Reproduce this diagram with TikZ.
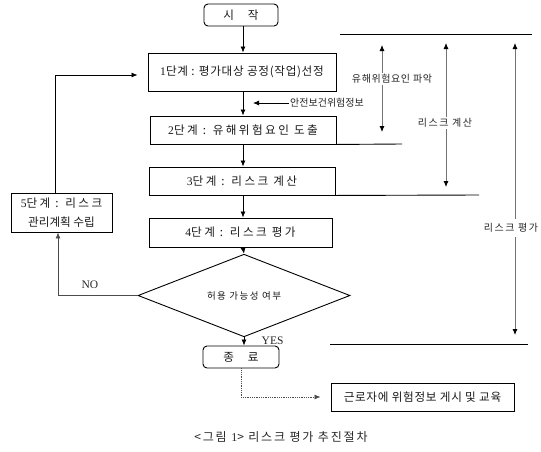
\documentclass[tikz,border=0pt]{standalone}
\usepackage{fontspec}
\setmainfont{Noto Sans CJK KR}
\newfontfamily\lat{Liberation Serif}
\newfontfamily\krA{Noto Sans CJK KR}[LetterSpace=21]
\newfontfamily\krB{Noto Sans CJK KR}[LetterSpace=6]
\newfontfamily\krC{Noto Sans CJK KR}[LetterSpace=15]
\usetikzlibrary{arrows.meta,shapes.geometric}
\begin{document}
\begin{tikzpicture}[x=1pt,y=-1pt,
  stepbox/.style={draw,line width=0.9pt,inner sep=0pt,font=\fontsize{11.6}{13}\selectfont,text=black!90},
  rbox/.style={stepbox,rounded corners=4pt},
  lab/.style={inner sep=1pt,font=\fontsize{10}{12}\selectfont,text=black!85},
  arr/.style={line width=0.8pt,-{Latex[length=6pt,width=5pt]}},
  garr/.style={line width=0.8pt,draw=black!55,{Latex[length=6pt,width=5pt,black]}-{Latex[length=6pt,width=5pt,black]}},
  hline/.style={line width=0.9pt}]
\useasboundingbox (0,0) rectangle (541,451);
\coordinate (cx) at (243,0);
% main boxes
\node[rbox,minimum width=74,minimum height=22] (start) at (241,15) {시\hspace{14pt}작};
\node[stepbox,minimum width=188,minimum height=38] (s1) at (242,72) {\krB{\lat 1}단계 : 평가대상 공정(작업)선정};
\node[stepbox,minimum width=186,minimum height=28] (s2) at (243,130) {\krA{\lat 2}단계 : 유해위험요인 도출};
\node[stepbox,minimum width=186,minimum height=28] (s3) at (242,181) {\krA{\lat 3}단계 : 리스크 계산};
\node[stepbox,minimum width=183,minimum height=29] (s4) at (240.5,232.5) {\krA{\lat 4}단계 : 리스크 평가};
\node[stepbox,minimum width=101,minimum height=39,align=center,font=\fontsize{11.6}{19}\selectfont] (s5) at (61.5,212.5) {\krA{\lat 5}단계 : 리스크\\관리계획 수립};
\node[draw,diamond,line width=0.9pt,inner sep=0pt,minimum width=212,minimum height=53,font=\fontsize{9.5}{11}\selectfont,text=black!90] (dia) at (244,295.5) {\krC 허용 가능성 여부};
\node[rbox,minimum width=76,minimum height=22] (end) at (241,357) {종\hspace{14pt}료};
\node[stepbox,minimum width=183,minimum height=28] (edu) at (422.5,397) {\krB 근로자에 위험정보 게시 및 교육};
% flow arrows
\draw[arr] (cx |- start.south) -- (cx |- s1.north);
\draw[arr] (cx |- s1.south) -- (cx |- s2.north);
\draw[arr] (cx |- s2.south) -- (cx |- s3.north);
\draw[arr] (cx |- s3.south) -- (cx |- s4.north);
\draw[arr] (cx |- s4.south) -- (dia.north);
\draw[arr] (dia.south) -- (dia.south |- end.north) node[pos=0.4,right=14pt,font=\lat\fontsize{11.5}{13}\selectfont,text=black!85] (yes) {YES};
\draw[arr,draw=black!70] (dia.west) -| ([xshift=-3.5]s5.south) node[pos=0.3,above=3pt,font=\lat\fontsize{11.5}{13}\selectfont,text=black!85] (no) {NO};
\draw[arr] ([xshift=-6]s5.north) |- ([xshift=-10,yshift=-3]s1.west);
\draw[arr,densely dotted,draw=black!70] (end.south) |- ([xshift=-10]edu.west);
% info input
\node[lab,anchor=west] (info) at (289,103) {안전보건위험정보};
\coordinate (infotip) at (253,103);
\draw[arr] (info.west) -- (infotip);
% horizontal rules
\coordinate (t1) at (340,34); \coordinate (t2) at (532,34);
\draw[hline] (t1) -- (t2);
\coordinate (r2) at (402,144);
\draw[hline] (s2.south east) -- (r2);
\coordinate (r3) at (479,195);
\draw[hline] (s3.south east) -- (r3);
\coordinate (b1) at (330,344); \coordinate (b2) at (528,344);
\draw[hline] (b1) -- (b2);
% range arrows
\coordinate (a1t) at (382,45); \coordinate (a1b) at (382,132);
\coordinate (a2t) at (446,43); \coordinate (a2b) at (446,187);
\coordinate (a3t) at (515,43); \coordinate (a3b) at (515,335);
\draw[garr] (a1t) -- (a1b);
\draw[garr] (a2t) -- (a2b);
\draw[garr] (a3t) -- (a3b);
\node[lab,fill=white,font=\krB\fontsize{10}{12}\selectfont] (l1) at (392,79) {유해위험요인 파악};
\node[lab,fill=white,font=\krC\fontsize{10}{12}\selectfont] (l2) at (445,123) {리스크 계산};
\node[lab,fill=white,font=\krC\fontsize{10}{12}\selectfont,inner ysep=4pt] (l3) at (511,228) {리스크 평가};
% caption
\node[font=\krC\fontsize{12}{14}\selectfont,text=black!85] (cap) at (281,437) {<그림 {\lat 1}> 리스크 평가 추진절차};
\end{tikzpicture}
\end{document}
